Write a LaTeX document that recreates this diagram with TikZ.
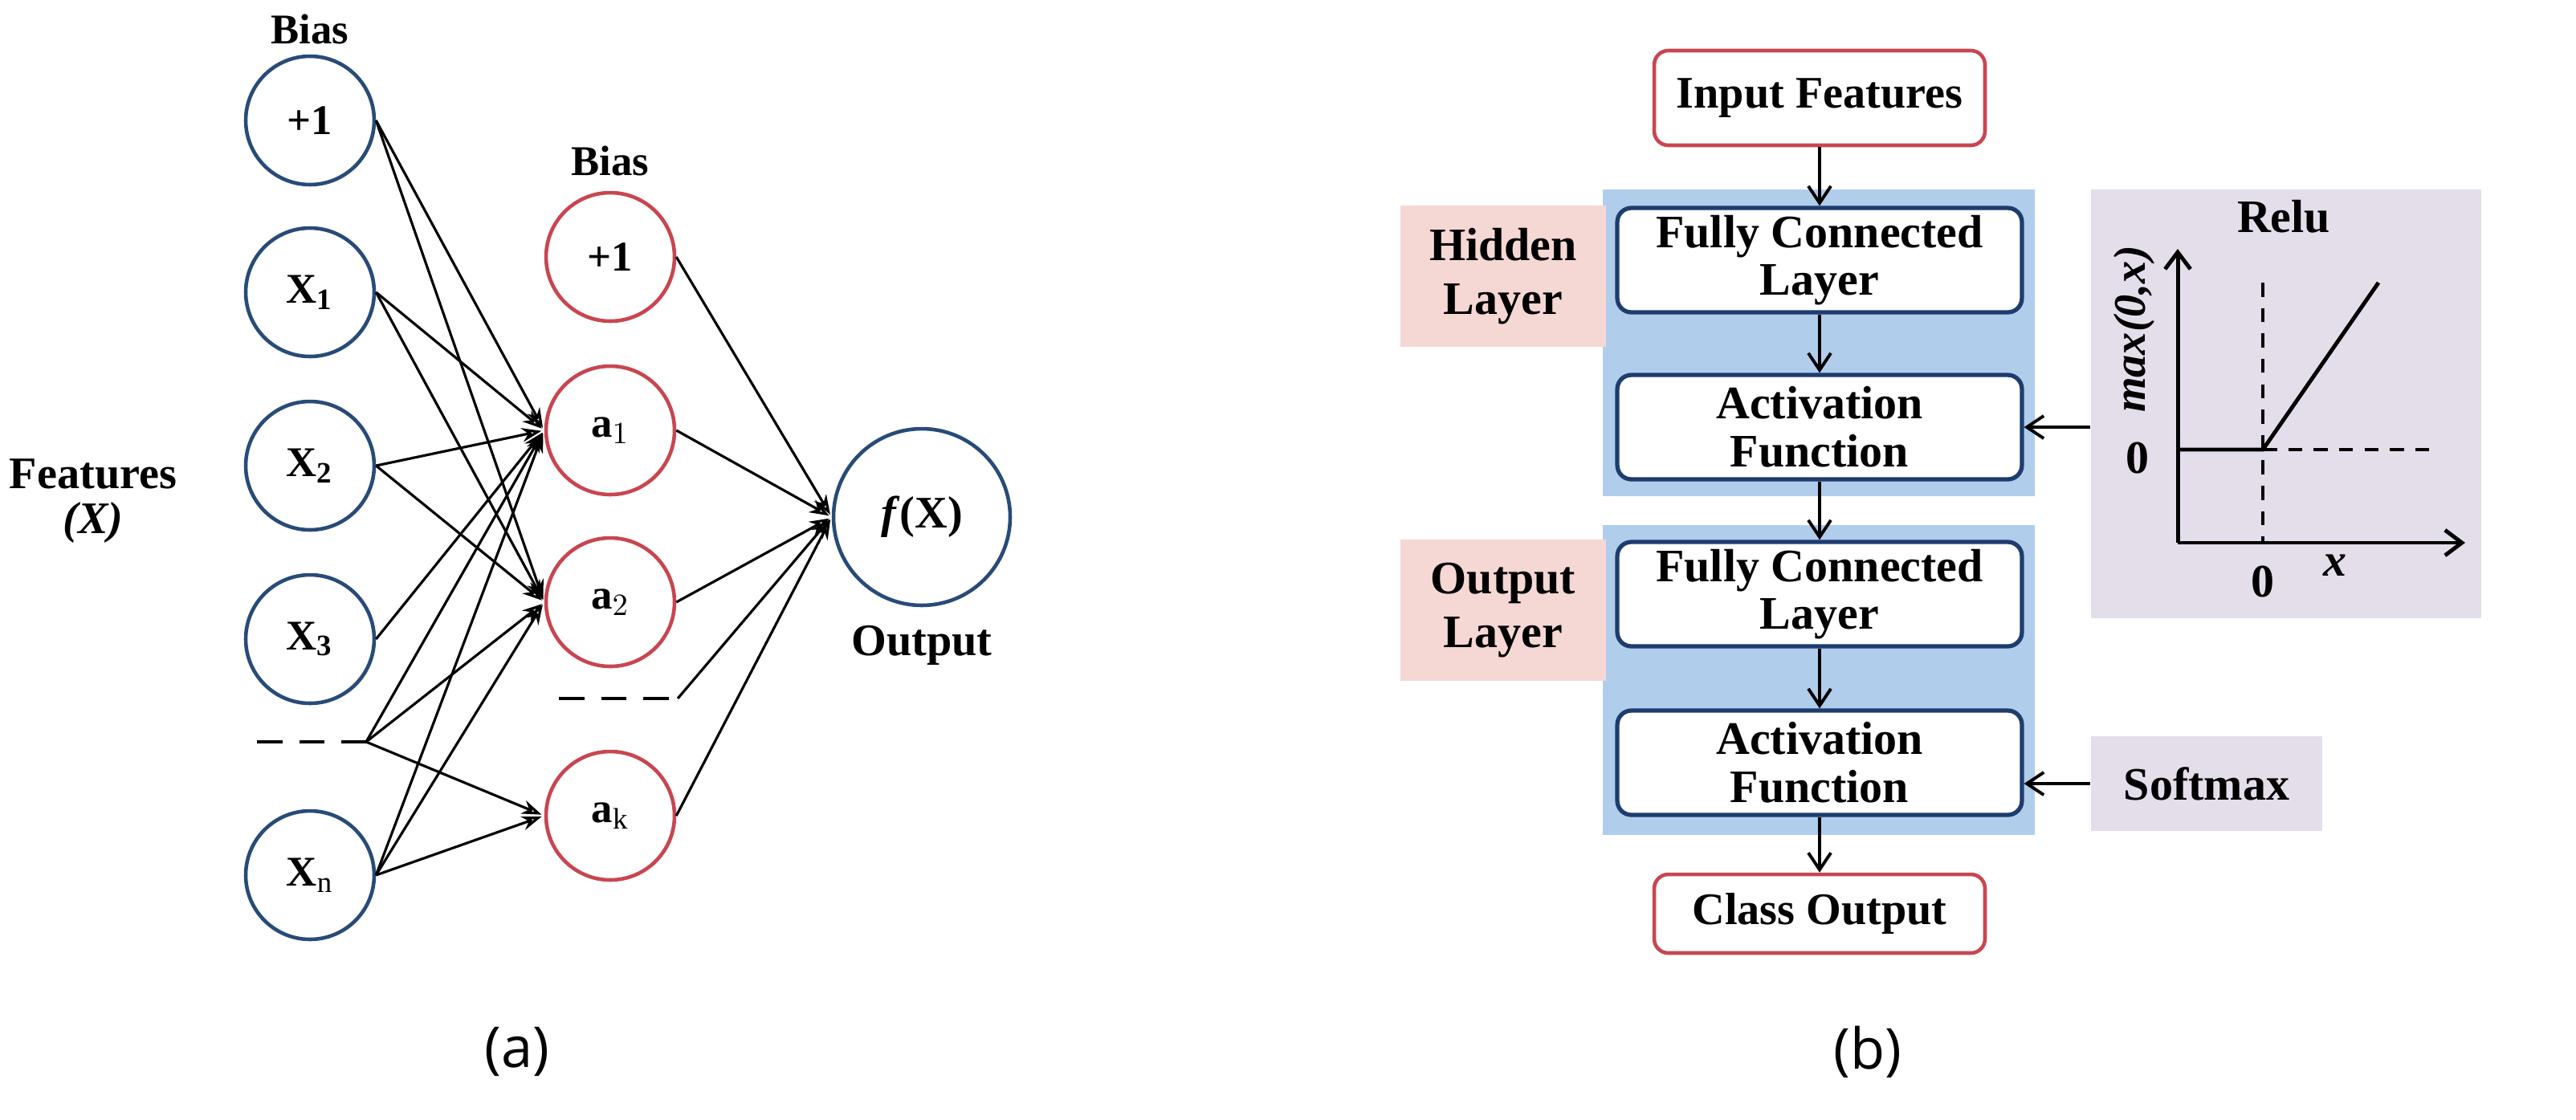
\documentclass[tikz,border=0pt]{standalone}
\usepackage{fontspec}
\setmainfont{Liberation Serif}
\newfontfamily\sansf{Open Sans}
\usetikzlibrary{arrows.meta}
\definecolor{cblue}{RGB}{40,75,120}
\definecolor{cred}{RGB}{200,70,80}
\definecolor{bgblue}{RGB}{176,205,235}
\definecolor{pinkbg}{RGB}{245,215,212}
\definecolor{lavbg}{RGB}{228,222,234}
\definecolor{boxblue}{RGB}{30,60,110}
\begin{document}
\begin{tikzpicture}[x=0.02cm,y=-0.02cm,
  inn/.style={circle,draw=cblue,line width=1.3pt,minimum size=1.6cm,inner sep=0pt,font=\bfseries\fontsize{15}{17}\selectfont},
  hid/.style={circle,draw=cred,line width=1.3pt,minimum size=1.6cm,inner sep=0pt,font=\bfseries\fontsize{15}{17}\selectfont},
  lbl/.style={font=\bfseries\fontsize{15}{17}\selectfont},
  ed/.style={-{Stealth[length=7pt,width=5pt,open]},line width=0.9pt, shorten >=1pt},
  ed2/.style={-{Straight Barb[length=6pt,width=8pt]},line width=1.1pt},
  box/.style={draw=boxblue,fill=white,line width=1.5pt,rounded corners=5pt,minimum width=5.04cm,minimum height=1.3cm,align=center,inner sep=0pt,font=\bfseries\fontsize{16.5}{17}\selectfont},
  rbox/.style={draw=cred,fill=white,line width=1.3pt,rounded corners=5pt,minimum width=4.12cm,align=center,inner sep=0pt,font=\bfseries\fontsize{16}{17}\selectfont},
  dsh/.style={line width=1.3pt,dash pattern=on 9pt off 6pt}]
\useasboundingbox (0,0) rectangle (1604,697);
% ---------- (a) ----------
\node[lbl] (b1) at (193,18) {Bias};
\node[inn] (i0) at (193,75) {+1};
\node[inn] (i1) at (193,182) {X$_{\mathbf 1}$};
\node[inn] (i2) at (193,290) {X$_{\mathbf 2}$};
\node[inn] (i3) at (193,398) {X$_{\mathbf 3}$};
\node[inn] (in) at (193,545) {X$_{\mathrm n}$};
\coordinate (dl) at (160,462);
\coordinate (dp) at (228,462);
\draw[dsh] (dl) -- (dp);
\node[font=\bfseries\fontsize{16}{18}\selectfont,align=center] (feat) at (58,312) {Features\\[-2pt]\textit{(X)}};
\node[lbl] (b2) at (380,100) {Bias};
\node[hid] (h0) at (380,160) {+1};
\node[hid] (h1) at (380,268) {a$_1$};
\node[hid] (h2) at (380,375) {a$_2$};
\node[hid] (hk) at (380,508) {a$_\mathrm{k}$};
\coordinate (hl) at (348,435);
\coordinate (hr) at (422,435);
\draw[dsh] (hl) -- (hr);
\node[circle,draw=cblue,line width=1.3pt,minimum size=2.2cm,inner sep=0pt,font=\bfseries\fontsize{16}{18}\selectfont] (fx) at (574,322) {\textit{f}(X)};
\node[font=\bfseries\fontsize{16}{18}\selectfont] (out) at (574,402) {Output};
\foreach \s in {i0,i1,i2,dp,in}{\draw[ed] (\s.east) -- (h1.west); \draw[ed] (\s.east) -- (h2.west);}
\draw[ed] (i3.east) -- (h1.west);
\draw[ed] (dp) -- (hk.west);
\draw[ed] (in.east) -- (hk.west);
\foreach \s in {h0,h1,h2,hk}{\draw[ed] (\s.east) -- (fx.west);}
\draw[ed] (hr) -- (fx.west);
\node[font=\sansf\fontsize{20}{22}\selectfont] (la) at (322,655) {(a)};
% ---------- (b) ----------
\fill[bgblue] (998,118) rectangle (1267,309);
\fill[bgblue] (998,327) rectangle (1267,520);
\node[fill=pinkbg,minimum width=2.56cm,minimum height=1.76cm,align=center,inner sep=0pt,font=\bfseries\fontsize{16.5}{19}\selectfont] (hl2) at (936,172) {Hidden\\Layer};
\node[fill=pinkbg,minimum width=2.56cm,minimum height=1.76cm,align=center,inner sep=0pt,font=\bfseries\fontsize{16.5}{19}\selectfont] (ol) at (936,380) {Output\\Layer};
\node[rbox,minimum height=1.18cm] (inf) at (1133,61) {Input Features};
\node[box] (fc1) at (1133,162) {Fully Connected\\Layer};
\node[box] (ac1) at (1133,266) {Activation\\Function};
\node[box] (fc2) at (1133,370) {Fully Connected\\Layer};
\node[box] (ac2) at (1133,475) {Activation\\Function};
\node[rbox,minimum height=0.98cm] (co) at (1133,569) {Class Output};
\draw[ed2] (inf) -- (fc1);
\draw[ed2] (fc1) -- (ac1);
\draw[ed2] (ac1) -- (fc2);
\draw[ed2] (fc2) -- (ac2);
\draw[ed2] (ac2) -- (co);
% Relu panel
\node[fill=lavbg,minimum width=4.86cm,minimum height=5.34cm,inner sep=0pt] (relu) at (1423.5,251.5) {};
\node[font=\bfseries\fontsize{16.5}{18}\selectfont] (rt) at (1422,135) {Relu};
\coordinate (o) at (1356,338);
\coordinate (yt) at (1356,155);
\coordinate (xe) at (1535,338);
\coordinate (z) at (1409,280);
\coordinate (zl) at (1356,280);
\coordinate (zt) at (1409,176);
\coordinate (zb) at (1409,338);
\coordinate (zr) at (1517,280);
\coordinate (re) at (1481,176);
\draw[line width=1.4pt,-{Straight Barb[length=6pt,width=9pt]}] (o) -- (yt);
\draw[line width=1.4pt,-{Straight Barb[length=6pt,width=9pt]}] (o) -- (xe);
\draw[line width=1pt,dash pattern=on 5pt off 4pt] (zt) -- (zb);
\draw[line width=1pt,dash pattern=on 5pt off 4pt] (z) -- (zr);
\draw[line width=1.4pt] (zl) -- (z) -- (re);
\node[font=\bfseries\fontsize{16.5}{18}\selectfont] (l0a) at (1331,285) {0};
\node[font=\bfseries\fontsize{16.5}{18}\selectfont] (l0b) at (1409,362) {0};
\node[font=\bfseries\itshape\fontsize{16.5}{18}\selectfont] (lx) at (1454,352) {x};
\node[font=\bfseries\itshape\fontsize{16}{18}\selectfont,rotate=90] (lmax) at (1329,205) {max(0,x)};
\draw[ed2] (relu.west |- ac1) -- (ac1.east);
\node[fill=lavbg,minimum width=2.88cm,minimum height=1.18cm,inner sep=0pt,font=\bfseries\fontsize{16.5}{18}\selectfont] (sm) at (1374,488) {Softmax};
\draw[ed2] (sm.west) -- (ac2.east |- sm.west);
\node[font=\sansf\fontsize{20}{22}\selectfont] (lb) at (1163,655) {(b)};
\end{tikzpicture}
\end{document}
